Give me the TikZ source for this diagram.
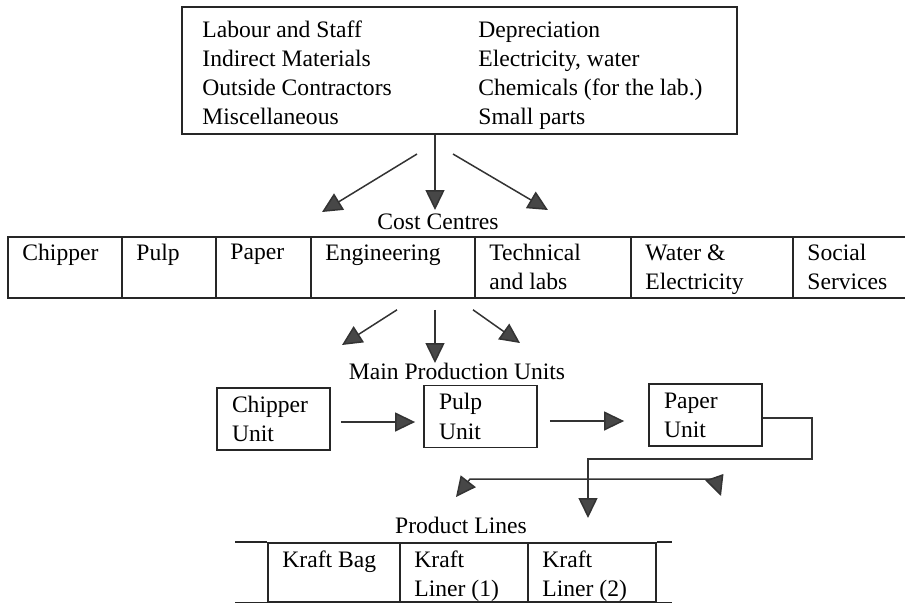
\documentclass[tikz,border=0pt]{standalone}
\usepackage{fontspec}
\setmainfont{Liberation Serif}
\usetikzlibrary{arrows.meta}
\newcommand{\px}{0.5pt}

\begin{document}
\begin{tikzpicture}[x=\px, y=-\px,
    every node/.style={font=\fontsize{11.8}{14.6}\selectfont},
    frame/.style={draw=black!85, line width=1pt, rectangle, inner sep=0pt},
    cell/.style={draw=black!85, line width=0.9pt, rectangle, anchor=north west, inner sep=0pt},
    celltext/.style={anchor=north west, align=left, inner xsep=7.5pt, inner ysep=4pt},
    unit/.style={draw=black!85, line width=0.9pt, rectangle, align=left, text width=41.5pt, inner xsep=7.5pt, minimum height=31pt},
    arr/.style={draw=black!80, line width=0.75pt, -{Triangle[length=10pt, width=9.5pt, fill=black!72]}}]

    \useasboundingbox (0,0) rectangle (905,602);

    % Cost items
    \node[frame, minimum width=277.5pt, minimum height=63.5pt] (costs) at (459.5,70.5) {};
    \node[anchor=base west, inner sep=0pt] (costitems) at (202,37) {\begin{tabular}[t]{@{}p{138pt}@{}l@{}}
        Labour and Staff & Depreciation\\
        Indirect Materials & Electricity, water\\
        Outside Contractors & Chemicals (for the lab.)\\
        Miscellaneous & Small parts
    \end{tabular}};

    % Cost centres
    \coordinate (cc-in) at (435,210);
    \coordinate (cc-top) at (costs.south -| cc-in);
    \coordinate (cc-left) at (322,212);
    \coordinate (cc-right) at (548,210);
    \draw[arr] (cc-top) -- (cc-in);
    \draw[arr] ([shift={(-18,19)}]cc-top) -- (cc-left);
    \draw[arr] ([shift={(18,19)}]cc-top) -- (cc-right);

    \node[anchor=base] (cclabel) at (438,229) {Cost Centres};

    \node[cell, minimum width=57pt, minimum height=30.5pt, label={[celltext]north west:Chipper}] (cc-1) at (7,236) {};
    \node[cell, minimum width=47pt, minimum height=30.5pt, label={[celltext]north west:Pulp}] (cc-2) at (121,236) {};
    \node[cell, minimum width=47.5pt, minimum height=30.5pt, label={[celltext]north west:Paper}] (cc-3) at (215,236) {};
    \node[cell, minimum width=82pt, minimum height=30.5pt, label={[celltext]north west:Engineering}] (cc-4) at (310,236) {};
    \node[cell, minimum width=78pt, minimum height=30.5pt, label={[celltext]north west:{Technical\\and labs}}] (cc-5) at (474,236) {};
    \node[cell, minimum width=81pt, minimum height=30.5pt, label={[celltext]north west:{Water \&\\Electricity}}] (cc-6) at (630,236) {};
    \node[cell, minimum width=58pt, minimum height=30.5pt, label={[celltext]north west:{Social\\Services}}] (cc-7) at (792,236) {};

    % Main production units
    \coordinate (mp-in) at (435,363);
    \coordinate (mp-top) at (cc-4.south -| mp-in);
    \coordinate (mp-left) at (342,345);
    \coordinate (mp-right) at (520,343);
    \draw[arr] ([yshift=-5.5pt]mp-top) -- (mp-in);
    \draw[arr] ([shift={(-38,11)}]mp-top) -- (mp-left);
    \draw[arr] ([shift={(38,11)}]mp-top) -- (mp-right);

    \node[anchor=base] (mplabel) at (457,379) {Main Production Units};

    \node[unit] (chipper) at (273.5,419) {Chipper\\Unit};
    \node[unit] (pulp) at (480.5,416.5) {Pulp\\Unit};
    \node[unit] (paper) at (705.5,415) {Paper\\Unit};

    \draw[arr, shorten <=5pt, shorten >=4pt] ([yshift=-1.5pt]chipper.east) -- ([yshift=-1.5pt]chipper.east -| pulp.west);
    \draw[arr, shorten <=6pt, shorten >=12pt] ([yshift=-2.25pt]pulp.east) -- ([yshift=-2.25pt]pulp.east -| paper.west);

    % Product lines
    \coordinate (bend) at (812,459);
    \coordinate (fork) at (588,479);
    \coordinate (pl-in) at (588,518);
    \coordinate (kb-in) at (456,497);
    \coordinate (kl-in) at (721,496);
    \draw[arr] ([yshift=-1.5pt]paper.east) -| (bend) -- (bend -| fork) -- (pl-in);
    \draw[arr] (fork) -- ++(-118,0) -- (kb-in);
    \draw[arr] (fork) -- ++(127,0) -- (kl-in);

    \node[anchor=base] (pllabel) at (461,533) {Product Lines};

    \node[cell, minimum width=66pt, minimum height=29.5pt, label={[celltext]north west:Kraft Bag}] (pl-1) at (267,542) {};
    \node[cell, minimum width=64pt, minimum height=29.5pt, label={[celltext]north west:{Kraft\\Liner (1)}}] (pl-2) at (399,542) {};
    \node[cell, minimum width=64pt, minimum height=29.5pt, label={[celltext]north west:{Kraft\\Liner (2)}}] (pl-3) at (527,542) {};
    \draw[draw=black!85, line width=0.9pt] (pl-1.north west) -- ++(-32,0) (pl-1.south west) -- ++(-32,0);
    \draw[draw=black!85, line width=0.9pt] (pl-3.north east) -- ++(15,0) (pl-3.south east) -- ++(15,0);

\end{tikzpicture}
\end{document}
